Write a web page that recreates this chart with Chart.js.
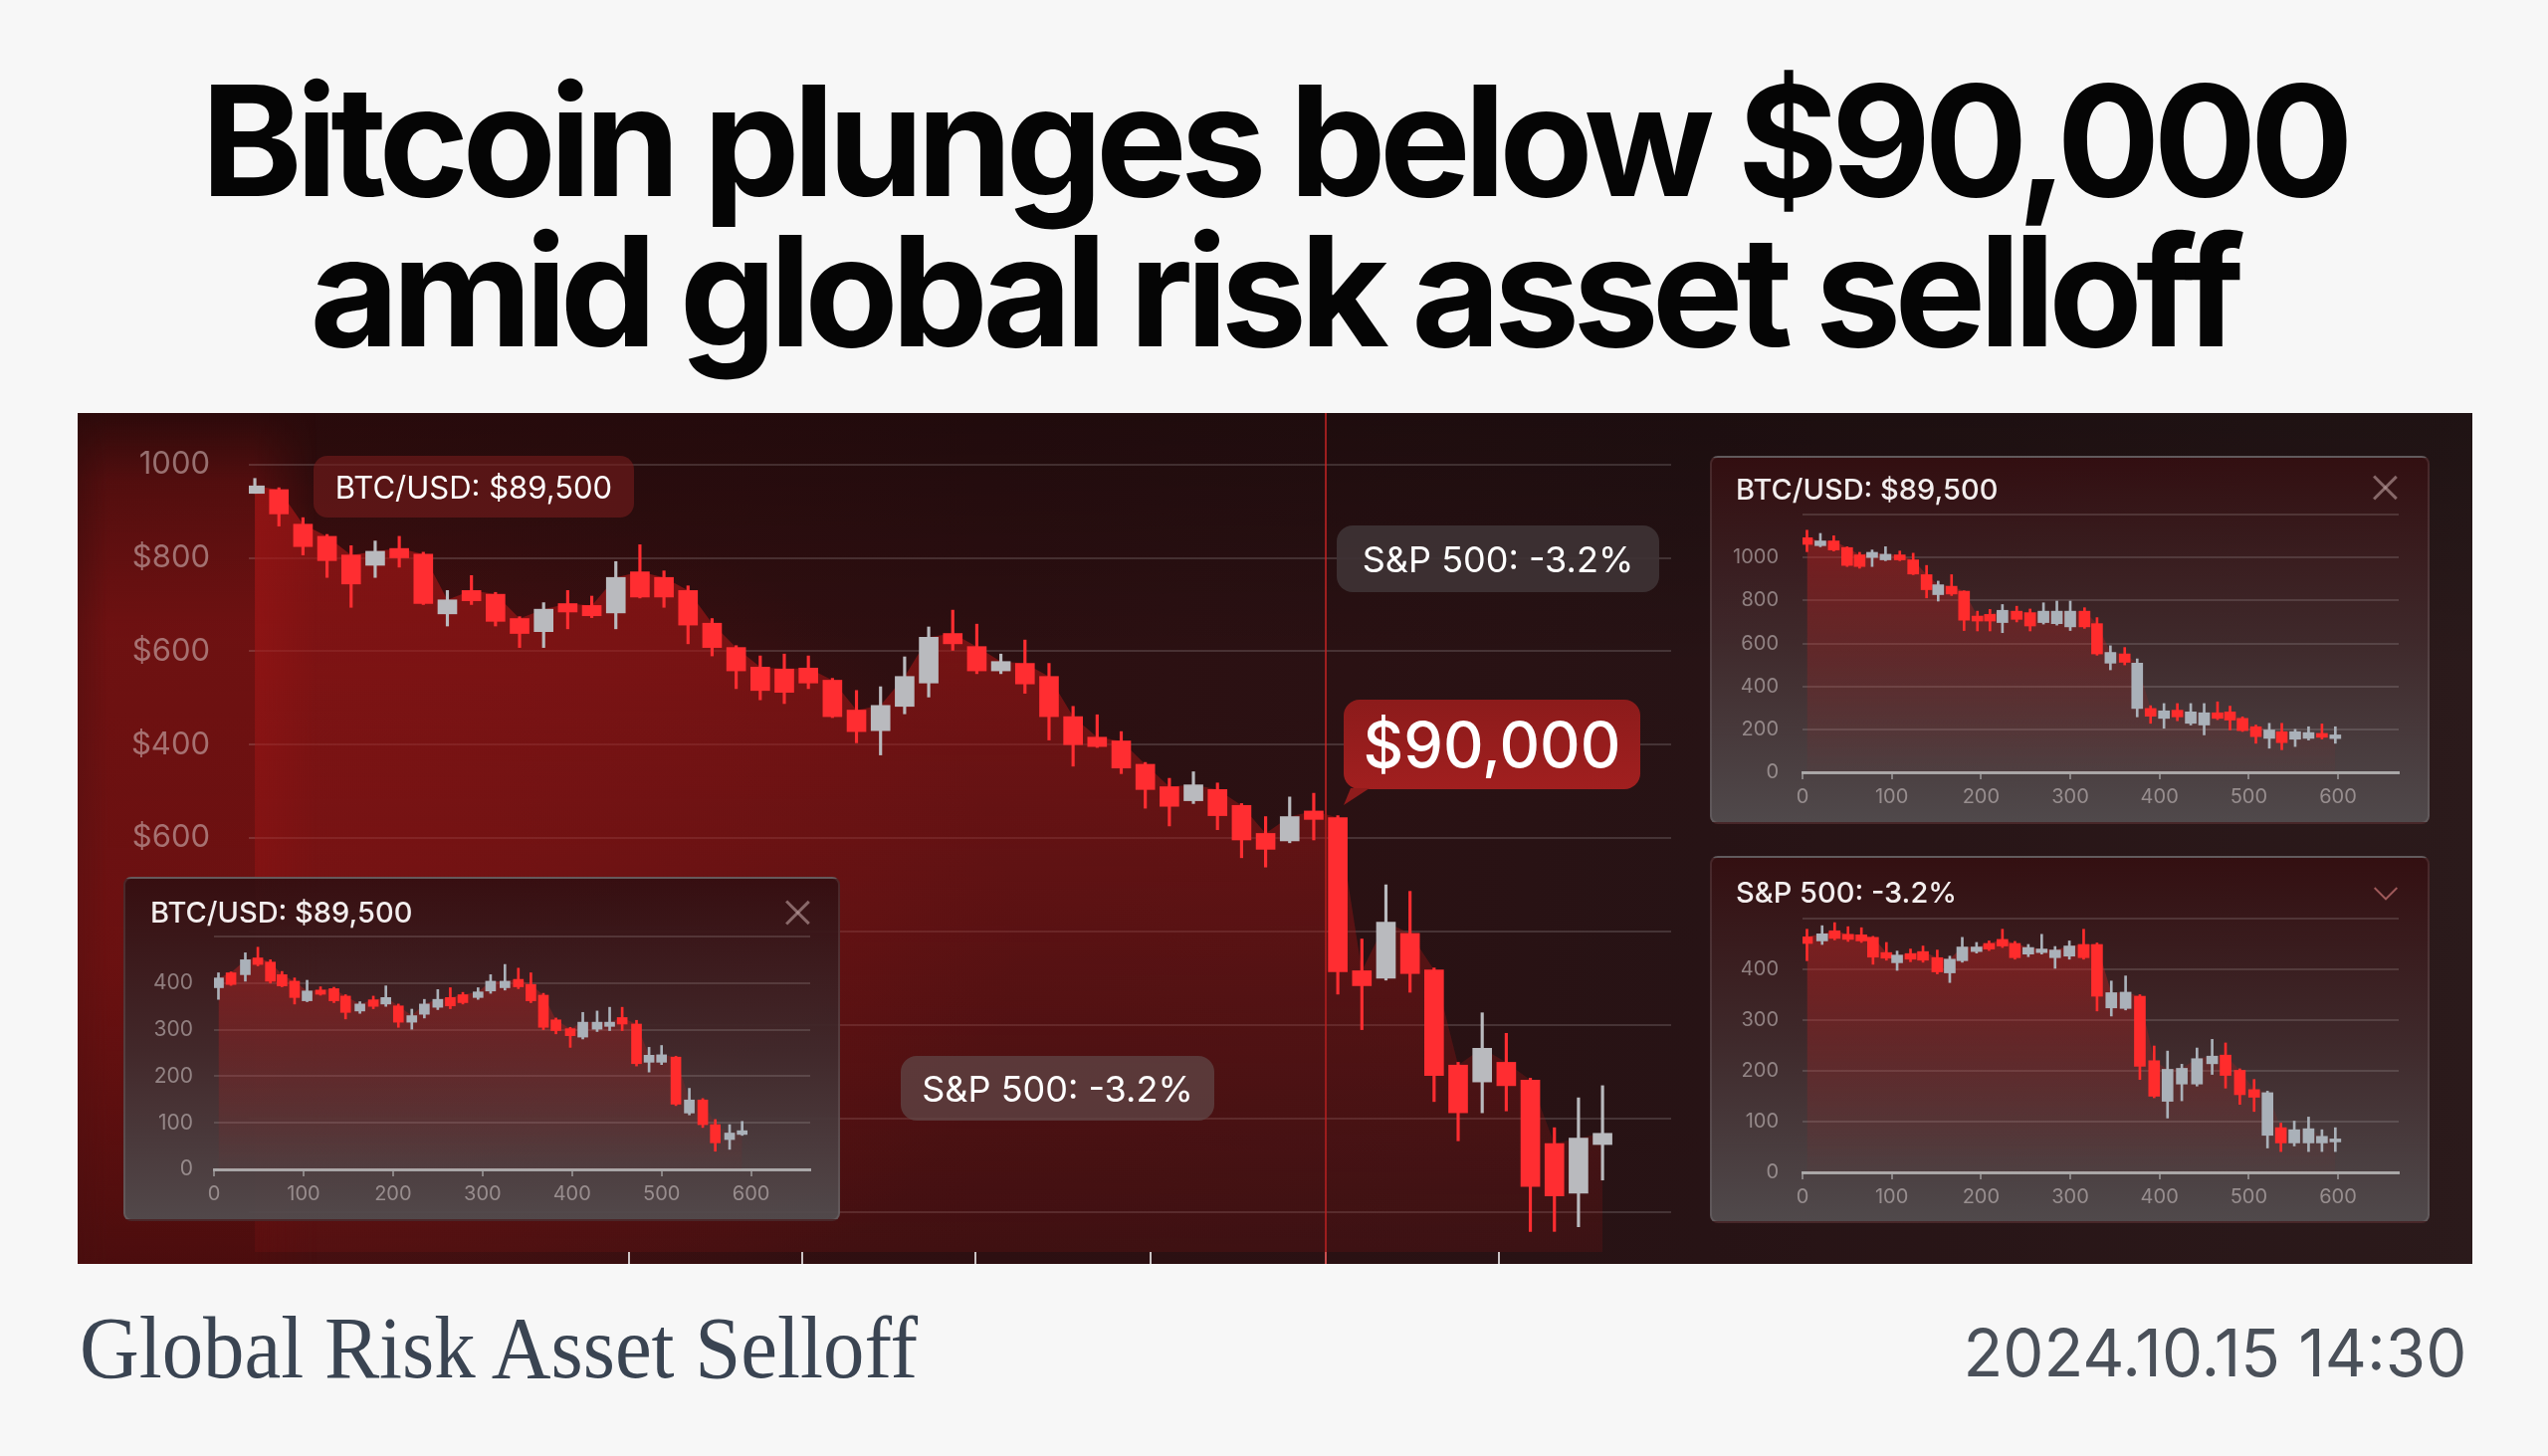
<!DOCTYPE html>
<html lang="en">
<head>
<meta charset="utf-8">
<title>Bitcoin plunges below $90,000</title>
<script src="https://cdn.jsdelivr.net/npm/chart.js@4.4.1/dist/chart.umd.min.js"></script>
<style>
  html, body { margin: 0; padding: 0; }
  body { width: 2560px; height: 1463px; background: #f7f7f7; position: relative; overflow: hidden; font-family: Inter, Roboto, sans-serif; }
  .headline { position: absolute; left: 0; width: 2560px; text-align: center; font-size: 154px; font-weight: 700; line-height: 154px; color: #050505; white-space: nowrap; }
  .headline span { display: inline-block; }
  #panel {
    position: absolute; left: 78px; top: 415px; width: 2406px; height: 855px; overflow: hidden;
    background:
      linear-gradient(180deg, rgba(0,0,0,0.28) 0%, rgba(0,0,0,0) 30%),
      radial-gradient(ellipse 1000px 650px at 8% 62%, rgba(125,20,20,0.55), rgba(125,20,20,0) 75%),
      linear-gradient(90deg, #3c0e0f 0%, #2d0f11 38%, #271315 68%, #2b1a1b 100%);
  }
  #axisGlow {
    position: absolute; left: 0; top: 0; width: 240px; height: 855px;
    background: linear-gradient(180deg, rgba(60,10,10,0.15) 0%, rgba(105,16,16,0.6) 8%, rgba(120,18,18,0.8) 25%, rgba(112,17,17,0.75) 65%, rgba(80,12,12,0.55) 100%);
    -webkit-mask-image: linear-gradient(90deg, rgba(0,0,0,0.55) 0px, #000 30px, #000 176px, rgba(0,0,0,0) 240px);
    mask-image: linear-gradient(90deg, rgba(0,0,0,0.55) 0px, #000 30px, #000 176px, rgba(0,0,0,0) 240px);
  }
  #mainChart { position: absolute; left: 0; top: 0; }
  .tag { position: absolute; display: flex; align-items: center; justify-content: center; color: #fff; white-space: nowrap; line-height: 1; }
  .tail { position: absolute; left: 0; width: 28px; height: 17px; clip-path: polygon(7px 0, 26px 0, 0 100%); background: #8f1c1c; }
  .inset {
    position: absolute; box-sizing: border-box; border: 2px solid rgba(255,255,255,0.1); border-radius: 8px;
    background: linear-gradient(180deg, rgba(52,15,17,0.95) 0%, rgba(64,42,44,0.95) 50%, rgba(82,76,78,0.95) 100%);
  }
  .inset canvas { position: absolute; left: -2px; top: -2px; }
  .cap { position: absolute; color: #f3eeee; font-size: 29px; font-weight: 500; line-height: 1; white-space: nowrap; }
  .close { position: absolute; width: 26px; height: 26px; transform: translate(-50%, -50%); }
  .close::before, .close::after { content: ''; position: absolute; left: 12px; top: -3px; width: 2.5px; height: 32px; background: rgba(190,160,160,0.6); }
  .close::before { transform: rotate(45deg); }
  .close::after { transform: rotate(-45deg); }
  .chevron { position: absolute; width: 15px; height: 15px; border-right: 2.5px solid rgba(205,120,120,0.7); border-bottom: 2.5px solid rgba(205,120,120,0.7); transform: translate(-50%, -75%) rotate(45deg); }
  .foot-left { position: absolute; left: 80px; top: 1311px; font-family: 'Liberation Serif', 'DejaVu Serif', serif; font-size: 88px; line-height: 88px; color: #3a4452; white-space: nowrap; transform-origin: left center; }
  .foot-right { position: absolute; right: 82px; top: 1326px; font-size: 66px; line-height: 66px; color: #4a5059; white-space: nowrap; transform-origin: right center; }
</style>
</head>
<body>
  <div class="headline" style="top:64px"><span id="head1">Bitcoin plunges below $90,000</span></div>
  <div class="headline" style="top:215px"><span id="head2">amid global risk asset selloff</span></div>

  <div id="panel">
    <div id="axisGlow"></div>
    <canvas id="mainChart" width="2406" height="855"></canvas>

    <div class="tag" style="left:237px; top:43px; width:322px; height:62px; font-size:31px; border-radius:14px; background:rgba(118,28,28,0.6)">BTC/USD: $89,500</div>
    <div class="tag" style="left:1265px; top:113px; width:324px; height:67px; font-size:36px; border-radius:16px; background:rgba(62,50,52,0.92)">S&amp;P 500: -3.2%</div>
    <div class="tag" style="left:1272px; top:288px; width:298px; height:90px; font-size:63px; font-weight:500; border-radius:16px; background:linear-gradient(180deg, #8c1b1b, #a11f1f)">$90,000<div class="tail" style="top:89px"></div></div>
    <div class="tag" style="left:827px; top:646px; width:315px; height:65px; font-size:36px; border-radius:16px; background:rgba(96,72,72,0.72)">S&amp;P 500: -3.2%</div>

    <div class="inset" style="left:46px; top:466px; width:720px; height:346px">
      <canvas id="miniLeft" width="720" height="346"></canvas>
      <div class="cap" style="left:25px; top:19px">BTC/USD: $89,500</div>
      <div class="close" style="left:675px; top:34px"></div>
    </div>
    <div class="inset" style="left:1640px; top:43px; width:723px; height:370px">
      <canvas id="miniTop" width="723" height="370"></canvas>
      <div class="cap" style="left:24px; top:17px">BTC/USD: $89,500</div>
      <div class="close" style="left:676px; top:30px"></div>
    </div>
    <div class="inset" style="left:1640px; top:445px; width:723px; height:369px">
      <canvas id="miniBottom" width="723" height="369"></canvas>
      <div class="cap" style="left:24px; top:20px">S&amp;P 500: -3.2%</div>
      <div class="chevron" style="left:677px; top:35px"></div>
    </div>
  </div>

  <div class="foot-left" id="footLeft">Global Risk Asset Selloff</div>
  <div class="foot-right" id="footRight">2024.10.15 14:30</div>

<script>
// main BTC candles, one per session: [open, high, low, close]
const btcMain = [
  [969, 985, 969, 977], [973, 975, 934, 947], [936, 943, 903, 912], [923, 925, 879, 897],
  [903, 913, 847, 872], [892, 918, 879, 907], [910, 923, 890, 900], [904, 906, 850, 851],
  [840, 865, 827, 855], [865, 881, 850, 854], [861, 863, 827, 832], [835, 837, 804, 819],
  [821, 852, 804, 845], [851, 865, 824, 842], [849, 859, 836, 838], [841, 896, 824, 879],
  [885, 914, 857, 858], [879, 886, 847, 858], [865, 870, 808, 828], [830, 835, 795, 804],
  [804, 806, 760, 779], [783, 795, 748, 758], [781, 797, 744, 756], [782, 795, 760, 766],
  [769, 771, 729, 730], [737, 758, 702, 714], [715, 762, 689, 742], [741, 794, 733, 773],
  [766, 826, 751, 815], [819, 844, 801, 808], [805, 829, 776, 779], [779, 797, 776, 789],
  [787, 812, 755, 765], [773, 787, 705, 730], [730, 741, 677, 700], [708, 732, 697, 698],
  [704, 714, 669, 675], [679, 681, 632, 652], [655, 664, 613, 634], [640, 671, 637, 657],
  [652, 659, 609, 624], [635, 637, 579, 598], [605, 623, 569, 588], [597, 644, 595, 623],
  [629, 648, 598, 620], [622, 624, 433, 457], [458, 492, 395, 442], [450, 550, 448, 510],
  [498, 543, 435, 455], [459, 461, 318, 346], [357, 360, 276, 306], [339, 413, 306, 375],
  [360, 391, 308, 335], [341, 343, 179, 227], [273, 290, 179, 217], [220, 322, 184, 279],
  [272, 335, 234, 284]
]
const mainYTicks = [1000, 900, 800, 700, 600, 500, 400, 300, 200]
const mainYLabels = ['1000', '$800', '$600', '$400', '$600', '', '', '', '']
const mainXTicks = [15.55, 22.75, 29.95, 37.2, 44.5, 51.7]
const markerIndex = 44.5

// small panels: [x, open, high, low, close]
const btcMiniLeft = [
  [5, 390, 422, 365, 411], [19, 422, 424, 395, 397], [35, 418, 465, 404, 450], [49, 454, 477, 437, 440],
  [63, 445, 450, 400, 404], [76, 418, 425, 392, 394], [90, 404, 411, 355, 369], [104, 362, 406, 360, 383],
  [119, 385, 392, 374, 376], [134, 388, 391, 358, 362], [147, 372, 375, 323, 337], [163, 340, 360, 335, 355],
  [178, 364, 372, 345, 350], [192, 355, 394, 350, 369], [206, 351, 355, 305, 316], [221, 316, 344, 301, 330],
  [235, 333, 365, 325, 355], [250, 348, 386, 343, 365], [264, 369, 390, 345, 351], [278, 375, 380, 355, 358],
  [295, 369, 390, 365, 381], [309, 383, 418, 378, 404], [325, 390, 440, 385, 404], [340, 408, 432, 388, 392],
  [354, 397, 422, 358, 362], [368, 374, 378, 300, 305], [382, 321, 325, 291, 298], [398, 302, 305, 262, 287],
  [412, 284, 337, 280, 316], [428, 301, 340, 296, 316], [442, 307, 348, 298, 316], [456, 326, 348, 298, 312],
  [472, 312, 320, 222, 227], [486, 230, 262, 209, 245], [500, 230, 266, 225, 246], [516, 241, 243, 137, 140],
  [531, 121, 174, 117, 149], [546, 149, 152, 90, 96], [560, 96, 107, 39, 57], [576, 64, 96, 43, 78],
  [590, 75, 103, 73, 83]
]
const btcMiniTop = [
  [5, 1092, 1127, 1027, 1061], [20, 1055, 1112, 1050, 1077], [35, 1077, 1101, 1030, 1035], [50, 1046, 1050, 958, 963],
  [64, 1012, 1024, 950, 958], [78, 1000, 1035, 958, 1024], [93, 989, 1050, 985, 1015], [109, 1012, 1030, 985, 989],
  [124, 989, 1020, 920, 923], [139, 920, 963, 812, 850], [152, 827, 890, 797, 873], [167, 866, 920, 823, 830],
  [181, 843, 845, 660, 708], [196, 727, 750, 658, 704], [210, 735, 758, 658, 704], [224, 697, 781, 650, 754],
  [240, 750, 773, 700, 712], [255, 743, 760, 658, 681], [270, 697, 789, 690, 750], [285, 692, 797, 685, 750],
  [300, 677, 797, 660, 750], [316, 750, 766, 670, 677], [330, 692, 720, 545, 551], [345, 508, 589, 477, 558],
  [361, 551, 581, 500, 512], [375, 297, 528, 258, 508], [390, 297, 310, 228, 261], [405, 251, 320, 205, 286],
  [420, 289, 320, 240, 258], [435, 228, 320, 220, 281], [450, 220, 320, 174, 277], [465, 277, 328, 245, 251],
  [479, 281, 308, 197, 243], [493, 251, 258, 190, 194], [508, 212, 220, 135, 166], [523, 158, 228, 112, 197],
  [537, 189, 228, 105, 138], [552, 154, 200, 120, 189], [567, 158, 212, 150, 185], [582, 181, 225, 155, 163],
  [597, 157, 212, 135, 174]
]
const spxMini = [
  [5, 464, 479, 417, 451], [22, 456, 486, 449, 470], [36, 476, 492, 458, 461], [51, 469, 484, 455, 459],
  [66, 468, 482, 453, 456], [79, 463, 465, 410, 424], [94, 433, 453, 418, 422], [106, 413, 436, 398, 428],
  [121, 431, 440, 415, 420], [135, 435, 446, 414, 418], [151, 423, 438, 391, 395], [165, 393, 426, 374, 420],
  [179, 417, 463, 414, 444], [195, 435, 453, 432, 444], [209, 451, 456, 437, 440], [224, 459, 479, 443, 446],
  [238, 451, 455, 420, 423], [253, 430, 449, 425, 443], [268, 433, 469, 430, 440], [283, 423, 445, 402, 438],
  [299, 426, 456, 420, 446], [315, 449, 479, 420, 423], [330, 449, 452, 318, 347], [346, 324, 377, 308, 354],
  [362, 323, 387, 320, 355], [378, 347, 350, 183, 209], [394, 220, 249, 147, 150], [409, 140, 239, 107, 203],
  [425, 174, 213, 141, 205], [442, 174, 245, 170, 224], [459, 214, 262, 193, 229], [474, 231, 255, 166, 191],
  [490, 201, 204, 134, 153], [506, 163, 183, 120, 148], [521, 73, 160, 48, 157], [536, 88, 97, 41, 58],
  [551, 58, 101, 52, 84], [567, 58, 109, 41, 86], [582, 58, 84, 41, 71], [597, 60, 88, 41, 64]
]
const miniXTicks = [0, 100, 200, 300, 400, 500, 600]
const btcMiniYTicks = [0, 200, 400, 600, 800, 1000, 1200]
const btcMiniYLabels = ['0', '200', '400', '600', '800', '1000', '']
const smallYTicks = [0, 100, 200, 300, 400, 500]
const smallYLabels = ['0', '100', '200', '300', '400', '']

Chart.defaults.font.family = 'Inter, Roboto, sans-serif'
Chart.defaults.animation = false
Chart.defaults.events = []
Chart.defaults.plugins.legend.display = false
Chart.defaults.plugins.tooltip.enabled = false

// vertical red marker through the whole panel
const markerLine = {
  id: 'markerLine',
  beforeDatasetsDraw (chart, args, opts) {
    const x = chart.scales.x.getPixelForValue(opts.value)
    const c = chart.ctx
    c.save()
    c.strokeStyle = opts.color
    c.lineWidth = 2
    c.beginPath()
    c.moveTo(x, 0)
    c.lineTo(x, chart.height)
    c.stroke()
    c.restore()
  }
}

function verticalFill (top, bottom) {
  return function (ctx) {
    const area = ctx.chart.chartArea
    if (!area) return top
    const g = ctx.chart.ctx.createLinearGradient(0, area.top, 0, area.bottom)
    g.addColorStop(0, top)
    g.addColorStop(1, bottom)
    return g
  }
}

function drawMain () {
  const colors = btcMain.map(k => k[3] >= k[0] ? '#b9babe' : '#ff2d31')
  new Chart(document.getElementById('mainChart'), {
    type: 'bar',
    data: {
      datasets: [
        { data: btcMain.map((k, i) => ({ x: i, y: [k[0], k[3]] })), backgroundColor: colors, barThickness: 19, minBarLength: 4, grouped: false, order: 0 },
        { data: btcMain.map((k, i) => ({ x: i, y: [k[2], k[1]] })), backgroundColor: colors, barThickness: 2.5, grouped: false, order: 1 },
        {
          type: 'line',
          data: btcMain.map((k, i) => ({ x: i, y: Math.max(k[0], k[3]) })),
          fill: 'start',
          backgroundColor: verticalFill('rgba(165,22,22,0.78)', 'rgba(150,22,22,0.18)'),
          borderWidth: 0,
          pointRadius: 0,
          order: 2
        }
      ]
    },
    options: {
      responsive: false,
      layout: { padding: { left: 0, right: 805, top: 0, bottom: 0 } },
      plugins: { markerLine: { value: markerIndex, color: 'rgba(200,36,36,0.75)' } },
      scales: {
        x: {
          type: 'linear',
          min: -0.25,
          max: 58.85,
          offset: false,
          afterBuildTicks: s => { s.ticks = mainXTicks.map(v => ({ value: v })) },
          afterFit: s => { s.height = 12; s.paddingLeft = 0; s.paddingRight = 0 },
          ticks: { display: false },
          grid: { offset: false, drawOnChartArea: false, drawTicks: true, tickLength: 12, color: 'rgba(255,255,255,0.75)', lineWidth: 2 },
          border: { display: false }
        },
        y: {
          min: 157,
          max: 1055,
          afterBuildTicks: s => { s.ticks = mainYTicks.map(v => ({ value: v })) },
          afterFit: s => { s.width = 172; s.paddingTop = 0; s.paddingBottom = 0 },
          ticks: { padding: 39, color: 'rgba(205,178,178,0.6)', font: { size: 31 }, callback: v => mainYLabels[mainYTicks.indexOf(v)] },
          grid: { drawTicks: false, color: 'rgba(255,255,255,0.14)', lineWidth: 2 },
          border: { display: false }
        }
      }
    },
    plugins: [markerLine]
  })
}

function drawMini (id, candles, geo, yTicks, yLabels) {
  const colors = candles.map(k => k[4] >= k[1] ? '#aab1b9' : '#ff2c2c')
  new Chart(document.getElementById(id), {
    type: 'bar',
    data: {
      datasets: [
        { data: candles.map(k => ({ x: k[0], y: [k[1], k[4]] })), backgroundColor: colors, barThickness: geo.body, minBarLength: 3, grouped: false, order: 0 },
        { data: candles.map(k => ({ x: k[0], y: [k[3], k[2]] })), backgroundColor: colors, barThickness: 2, grouped: false, order: 1 },
        {
          type: 'line',
          data: candles.map(k => ({ x: k[0], y: Math.max(k[1], k[4]) })),
          fill: 'start',
          backgroundColor: verticalFill('rgba(185,35,35,0.55)', 'rgba(185,35,35,0.03)'),
          borderWidth: 0,
          pointRadius: 0,
          order: 2
        }
      ]
    },
    options: {
      responsive: false,
      layout: { padding: { left: 0, right: geo.w - geo.right, top: geo.top, bottom: 0 } },
      scales: {
        x: {
          type: 'linear',
          min: 0,
          max: geo.xMax,
          offset: false,
          afterBuildTicks: s => { s.ticks = miniXTicks.map(v => ({ value: v })) },
          afterFit: s => { s.height = geo.h - geo.bottom; s.paddingLeft = 0; s.paddingRight = 0 },
          ticks: { padding: 6, color: 'rgba(200,190,190,0.6)', font: { size: 20 }, maxRotation: 0, autoSkip: false, callback: v => String(v) },
          grid: { offset: false, drawOnChartArea: false, drawTicks: true, tickLength: 7, color: 'rgba(190,190,190,0.55)', lineWidth: 2 },
          border: { display: true, color: 'rgba(190,190,190,0.8)', width: 3 }
        },
        y: {
          min: 0,
          max: yTicks[yTicks.length - 1],
          afterBuildTicks: s => { s.ticks = yTicks.map(v => ({ value: v })) },
          afterFit: s => { s.width = geo.left; s.paddingTop = 0; s.paddingBottom = 0 },
          ticks: { padding: geo.left - geo.labelRight, color: 'rgba(200,190,190,0.6)', font: { size: geo.font }, callback: v => yLabels[yTicks.indexOf(v)] },
          grid: { drawTicks: false, color: 'rgba(255,255,255,0.13)', lineWidth: 2 },
          border: { display: false }
        }
      }
    }
  })
}

function fitSpacing (el, target) {
  const w = el.getBoundingClientRect().width
  el.style.letterSpacing = ((target - w) / el.textContent.length) + 'px'
}

function fitScale (el, target) {
  const w = el.getBoundingClientRect().width
  el.style.transform = 'scaleX(' + (target / w) + ')'
}

document.fonts.ready.then(function () {
  fitSpacing(document.getElementById('head1'), 2156)
  fitSpacing(document.getElementById('head2'), 1937)
  fitScale(document.getElementById('footLeft'), 842)
  fitScale(document.getElementById('footRight'), 506)

  drawMain()
  drawMini('miniLeft', btcMiniLeft, { w: 720, h: 346, left: 91, right: 690, top: 60, bottom: 294, labelRight: 70, xMax: 666, body: 10, font: 21 }, smallYTicks, smallYLabels)
  drawMini('miniTop', btcMiniTop, { w: 723, h: 370, left: 93, right: 692, top: 59, bottom: 318, labelRight: 69, xMax: 668, body: 11, font: 20 }, btcMiniYTicks, btcMiniYLabels)
  drawMini('miniBottom', spxMini, { w: 723, h: 369, left: 93, right: 692, top: 63, bottom: 318, labelRight: 69, xMax: 668, body: 11, font: 20 }, smallYTicks, smallYLabels)
})
</script>
</body>
</html>
